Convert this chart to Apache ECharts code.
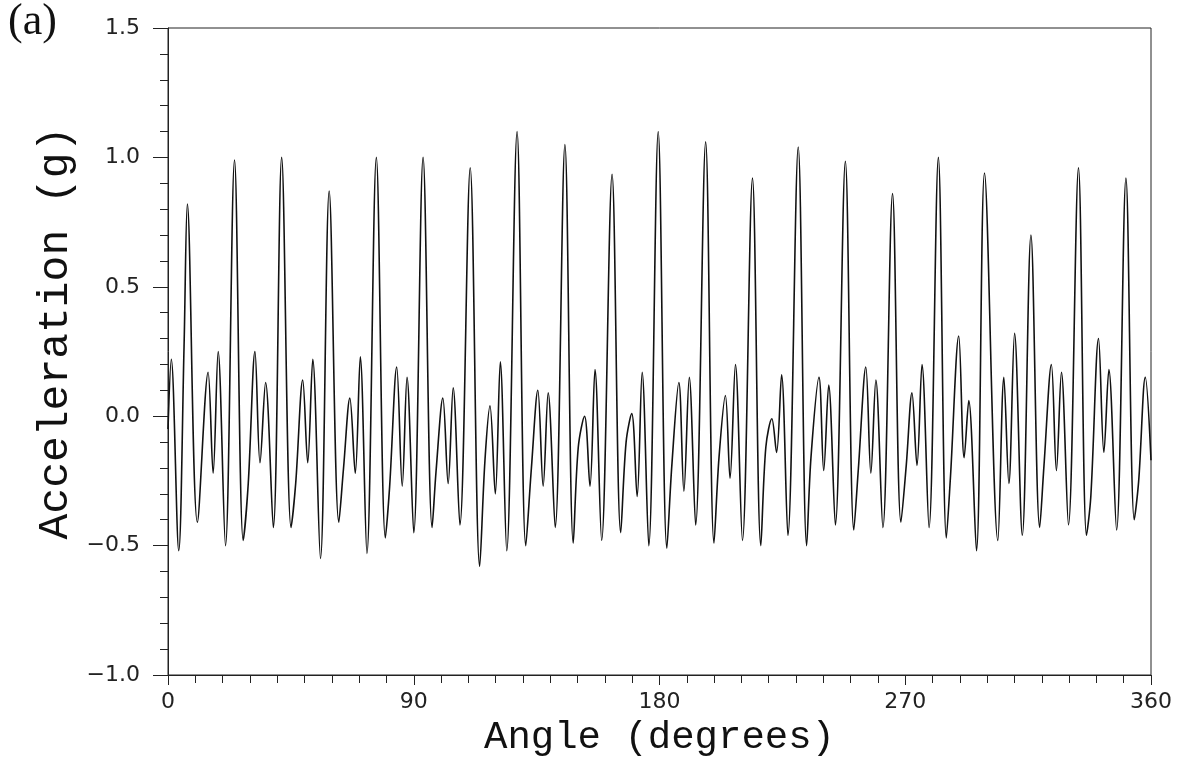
<!DOCTYPE html>
<html>
<head>
<meta charset="utf-8">
<script src="https://cdn.jsdelivr.net/npm/echarts@6/dist/echarts.min.js"></script>
<style>
html,body{margin:0;padding:0;background:#fff;}
#chart{width:1180px;height:765px;}
</style>
</head>
<body>
<div id="chart"></div>
<script>
const angles = [
0.0,1.21,3.93,5.88,7.09,10.76,14.69,16.53,18.37,21.05,
24.36,27.55,29.39,31.85,33.69,35.74,38.57,
41.62,45.07,46.76,49.34,51.17,53.01,55.84,
59.03,62.56,64.29,66.60,68.58,70.42,72.85,
76.30,79.60,81.18,83.76,85.78,87.54,90.00,
93.42,96.72,98.19,100.65,102.60,104.44,106.90,
110.68,114.14,116.08,117.92,119.87,121.70,124.05,
127.84,131.03,133.09,135.44,137.39,139.23,141.80,
145.36,148.41,150.25,152.56,154.54,156.38,158.81,
162.63,165.79,167.77,169.83,171.81,173.65,176.07,
179.53,182.69,184.52,187.09,188.93,190.91,193.23,
196.90,199.95,201.79,204.13,205.83,207.81,210.38,
214.05,217.10,218.94,221.14,222.87,224.71,227.02,
230.81,233.89,235.47,238.41,240.14,241.97,244.40,
248.07,251.16,252.85,255.56,257.40,259.24,261.81,
265.34,268.42,270.37,272.46,274.30,276.14,278.71,
282.13,285.06,286.53,289.59,291.57,293.26,296.08,
299.02,303.91,306.11,307.95,310.04,312.87,
316.03,319.23,320.81,323.52,325.36,327.20,329.77,
333.44,336.38,337.96,340.79,342.74,344.57,347.40,
350.82,353.87,355.49,357.91,360.00
];
// Acceleration (g) at each angle
const accel = [
-0.05,0.22,-0.52,0.27,0.82,-0.41,0.17,-0.22,0.25,-0.50,
0.99,-0.48,-0.26,0.25,-0.18,0.13,-0.43,
1.00,-0.43,-0.26,0.14,-0.18,0.22,-0.55,
0.87,-0.41,-0.20,0.07,-0.22,0.23,-0.53,
1.00,-0.47,-0.27,0.19,-0.27,0.15,-0.45,
1.00,-0.43,-0.21,0.07,-0.26,0.11,-0.42,
0.96,-0.58,-0.17,0.04,-0.30,0.21,-0.52,
1.10,-0.50,-0.20,0.10,-0.27,0.09,-0.43,
1.05,-0.49,-0.12,0.00,-0.27,0.18,-0.48,
0.935,-0.45,-0.10,0.01,-0.31,0.17,-0.50,
1.10,-0.51,-0.19,0.13,-0.29,0.15,-0.42,
1.06,-0.49,-0.16,0.08,-0.24,0.20,-0.48,
0.92,-0.50,-0.12,-0.01,-0.14,0.16,-0.46,
1.04,-0.50,-0.16,0.15,-0.21,0.12,-0.42,
0.985,-0.44,-0.20,0.19,-0.22,0.14,-0.43,
0.86,-0.41,-0.19,0.09,-0.19,0.20,-0.43,
1.00,-0.47,-0.24,0.31,-0.16,0.06,-0.52,
0.94,-0.48,0.15,-0.26,0.32,-0.46,
0.70,-0.43,-0.19,0.20,-0.21,0.17,-0.42,
0.96,-0.46,-0.31,0.30,-0.14,0.18,-0.44,
0.92,-0.40,-0.25,0.15,-0.17
];
const xTicks = [0, 90, 180, 270, 360];
const yTicks = [-1.0, -0.5, 0.0, 0.5, 1.0, 1.5];

const points = angles.map((a, i) => [a, accel[i]]);

const chart = echarts.init(document.getElementById('chart'), null, {renderer: 'canvas'});
const axisColor = '#222';
chart.setOption({
  animation: false,
  backgroundColor: '#fff',
  grid: {left: 168, right: 29, top: 28, bottom: 90, show: true, borderColor: axisColor, borderWidth: 1, backgroundColor: 'transparent'},
  graphic: [
    {type: 'text', left: 8, top: 0, style: {text: '(a)', font: '44px "Liberation Serif"', fill: '#111'}},
    {type: 'text', x: 56, y: 333, rotation: Math.PI / 2,
     style: {text: 'Acceleration (g)', font: '43px "Liberation Mono"', fill: '#111', textAlign: 'center', textVerticalAlign: 'middle'}}
  ],
  xAxis: {
    type: 'value', min: xTicks[0], max: xTicks[xTicks.length - 1], interval: 90,
    name: 'Angle (degrees)', nameLocation: 'middle', nameGap: 30,
    nameTextStyle: {fontFamily: 'Liberation Mono', fontSize: 39, color: '#111'},
    axisLine: {show: true, onZero: false, lineStyle: {color: axisColor, width: 1}},
    axisTick: {show: true, inside: false, length: 10, lineStyle: {color: axisColor}},
    minorTick: {show: true, splitNumber: 9, length: 8, lineStyle: {color: axisColor}},
    splitLine: {show: false},
    axisLabel: {margin: 16, fontFamily: 'DejaVu Sans', fontSize: 22, color: '#222'}
  },
  yAxis: {
    type: 'value', min: yTicks[0], max: yTicks[yTicks.length - 1], interval: 0.5,
    axisLine: {show: true, onZero: false, lineStyle: {color: axisColor, width: 1}},
    axisTick: {show: true, inside: false, length: 15, lineStyle: {color: axisColor}},
    minorTick: {show: true, splitNumber: 5, length: 8, lineStyle: {color: axisColor}},
    splitLine: {show: false},
    axisLabel: {margin: 28, fontFamily: 'DejaVu Sans', fontSize: 22, color: '#222',
      formatter: v => v.toFixed(1).replace('-', '\u2212')}
  },
  series: [{
    type: 'line', data: points, showSymbol: false, smooth: 0.35,
    lineStyle: {color: '#111', width: 1.6}
  }]
});
</script>
</body>
</html>
